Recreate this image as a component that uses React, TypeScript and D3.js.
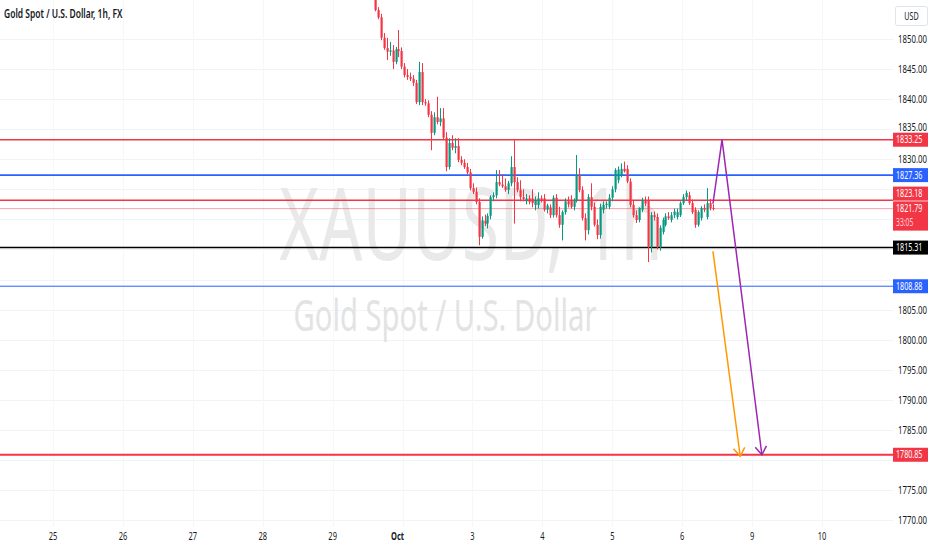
import * as d3 from "d3";

// hourly candles, [open, high, low, close]
const candles: number[][] = [
  [1859.0, 1860.0, 1856.6, 1857.2], [1857.2, 1857.8, 1854.6, 1854.8], [1854.8, 1855.3, 1853.3, 1853.6],
  [1853.6, 1854.2, 1849.8, 1850.2], [1850.2, 1851.0, 1848.2, 1848.5], [1848.5, 1850.2, 1846.5, 1847.9],
  [1847.9, 1849.5, 1847.2, 1848.1], [1848.1, 1849.0, 1845.0, 1846.2], [1846.2, 1848.7, 1845.8, 1848.3],
  [1848.3, 1851.5, 1847.0, 1848.0], [1848.0, 1848.6, 1845.0, 1845.4], [1845.4, 1846.0, 1843.6, 1844.0],
  [1844.0, 1845.0, 1843.2, 1843.7], [1843.7, 1844.4, 1843.0, 1843.4], [1843.4, 1844.0, 1842.2, 1842.7],
  [1842.7, 1843.2, 1839.2, 1839.5], [1839.5, 1846.2, 1839.0, 1844.5], [1844.5, 1846.0, 1839.0, 1839.5],
  [1839.5, 1840.0, 1838.9, 1839.3], [1839.3, 1839.8, 1837.0, 1837.4], [1837.4, 1838.0, 1831.5, 1834.4],
  [1834.4, 1837.8, 1834.0, 1837.0], [1837.0, 1840.4, 1835.8, 1836.2], [1836.2, 1838.5, 1835.5, 1836.8],
  [1836.8, 1838.5, 1833.2, 1833.6], [1833.6, 1834.5, 1828.0, 1828.7], [1828.7, 1833.5, 1828.3, 1832.7],
  [1832.7, 1834.0, 1831.5, 1831.9], [1831.9, 1833.5, 1831.0, 1832.2], [1832.2, 1833.5, 1829.5, 1829.9],
  [1829.9, 1830.5, 1829.0, 1829.4], [1829.4, 1830.0, 1828.4, 1828.7], [1828.7, 1829.4, 1827.5, 1827.8],
  [1827.8, 1828.4, 1824.8, 1825.2], [1825.2, 1826.0, 1824.2, 1824.6], [1824.6, 1825.3, 1822.5, 1822.9],
  [1822.9, 1823.5, 1815.7, 1817.1], [1817.1, 1820.5, 1816.8, 1819.8], [1819.8, 1820.8, 1818.9, 1819.3],
  [1819.3, 1821.0, 1818.5, 1820.6], [1820.6, 1824.0, 1820.0, 1823.7], [1823.7, 1824.5, 1823.0, 1824.0],
  [1824.0, 1828.2, 1823.5, 1826.2], [1826.2, 1828.2, 1825.5, 1825.8], [1825.8, 1827.5, 1825.2, 1825.5],
  [1825.5, 1826.8, 1824.6, 1824.9], [1824.9, 1826.4, 1824.2, 1826.0], [1826.0, 1830.5, 1825.5, 1828.7],
  [1828.7, 1833.2, 1819.3, 1826.2], [1826.2, 1827.0, 1824.5, 1824.9], [1824.9, 1826.5, 1823.0, 1823.7],
  [1823.7, 1825.0, 1823.0, 1823.4], [1823.0, 1824.2, 1822.5, 1823.5], [1823.5, 1824.0, 1822.5, 1822.9],
  [1823.5, 1825.0, 1822.0, 1822.7], [1822.4, 1823.8, 1821.5, 1823.2], [1822.4, 1824.5, 1821.8, 1823.5],
  [1823.5, 1824.0, 1822.8, 1823.2], [1823.5, 1824.2, 1821.3, 1821.6], [1821.6, 1822.6, 1821.0, 1822.3],
  [1822.0, 1822.5, 1820.2, 1820.7], [1820.7, 1824.0, 1820.3, 1823.6], [1823.6, 1824.2, 1820.3, 1820.7],
  [1820.7, 1822.1, 1818.6, 1819.1], [1819.1, 1821.5, 1816.5, 1821.2], [1821.2, 1823.5, 1820.8, 1823.0],
  [1823.0, 1823.8, 1822.0, 1822.5], [1823.2, 1824.0, 1821.8, 1822.1], [1822.1, 1823.5, 1821.5, 1823.2],
  [1823.2, 1830.7, 1822.8, 1827.4], [1827.4, 1828.5, 1824.5, 1824.9], [1824.9, 1825.5, 1819.8, 1820.2],
  [1820.2, 1821.0, 1816.5, 1818.2], [1818.2, 1824.2, 1817.5, 1823.7], [1823.7, 1826.0, 1821.5, 1822.1],
  [1822.1, 1822.8, 1818.8, 1819.1], [1819.1, 1820.0, 1816.7, 1817.4], [1817.4, 1822.6, 1816.8, 1822.1],
  [1821.6, 1823.0, 1821.0, 1822.4], [1822.4, 1823.0, 1821.8, 1822.6], [1822.1, 1824.2, 1821.7, 1823.6],
  [1823.6, 1825.5, 1823.0, 1825.0], [1825.0, 1828.5, 1824.5, 1828.2], [1826.5, 1828.8, 1826.0, 1828.3],
  [1827.3, 1829.3, 1827.0, 1828.4], [1828.4, 1829.6, 1827.8, 1828.0], [1828.4, 1829.0, 1826.0, 1826.3],
  [1826.3, 1826.8, 1822.0, 1822.4], [1822.4, 1823.2, 1820.3, 1820.7], [1820.7, 1821.5, 1819.4, 1819.9],
  [1819.9, 1822.0, 1819.5, 1821.9], [1821.6, 1823.6, 1821.2, 1823.2], [1823.2, 1823.8, 1822.2, 1822.6],
  [1823.2, 1823.8, 1812.9, 1815.4], [1815.4, 1821.2, 1814.5, 1820.7], [1820.7, 1821.3, 1819.8, 1820.4],
  [1820.4, 1821.0, 1815.0, 1815.4], [1815.4, 1819.0, 1814.8, 1818.6], [1817.9, 1820.3, 1817.5, 1819.9],
  [1819.1, 1821.0, 1818.8, 1820.5], [1820.5, 1821.2, 1819.9, 1820.2], [1819.9, 1821.2, 1819.5, 1820.7],
  [1820.7, 1821.8, 1820.2, 1821.3], [1820.4, 1821.8, 1820.0, 1821.2], [1820.7, 1823.0, 1820.4, 1822.7],
  [1822.7, 1824.2, 1822.4, 1823.7], [1823.7, 1824.8, 1823.2, 1824.4], [1824.0, 1824.6, 1822.4, 1822.7],
  [1822.7, 1823.3, 1820.9, 1821.2], [1821.6, 1822.0, 1818.6, 1819.1], [1819.1, 1821.5, 1818.8, 1821.2],
  [1820.2, 1822.2, 1819.8, 1821.9], [1821.9, 1822.5, 1821.2, 1821.6], [1820.4, 1825.2, 1820.0, 1822.7],
  [1822.7, 1823.4, 1821.5, 1821.9], [1821.9, 1822.5, 1821.5, 1821.79],
];

const dayLabels = ["25", "26", "27", "28", "29", "Oct", "3", "4", "5", "6", "9", "10"];
const priceTicks = d3.range(1770, 1851, 5);

// first / last candle position, in trading days from "25"
const firstCandleDay = 4.56;
const lastCandleDay = 9.44;

// horizontal levels: [price, color, width]
const levels: [number, string, number][] = [
  [1833.25, "#f23645", 1.6],
  [1827.36, "#2962ff", 1.6],
  [1823.18, "#f23645", 1.6],
  [1815.31, "#000000", 1.6],
  [1808.88, "#2962ff", 1],
  [1780.85, "#f23645", 2],
];
const lastPrice = 1821.79;
const countdown = "33:05";

// drawn projections: [day, price]
const purplePath: [number, number][] = [[9.44, 1822.6], [9.57, 1833.25], [10.14, 1780.85]];
const orangePath: [number, number][] = [[9.44, 1814.7], [9.83, 1780.6]];

const W = 932;
const H = 550;
const plotRight = 893;
const SX = 0.68;
const FONT = "'Noto Sans', sans-serif";

const x = d3.scaleLinear().domain([0, 11]).range([53, 822]);
const y = d3.scaleLinear().domain([1770, 1850]).range([520, 39]);

const T = ({ tx, ty, size, fill = "#131722", anchor = "start", weight = 400, children }: any) => (
  <text
    transform={`translate(${tx},${ty}) scale(${SX},1)`}
    fontSize={size}
    fill={fill}
    textAnchor={anchor}
    fontWeight={weight}
    fontFamily={FONT}
  >
    {children}
  </text>
);

const arrowHead = (pts: [number, number][], color: string) => {
  const [a, b] = pts.slice(-2).map(([d, p]) => [x(d), y(p)]);
  const ang = Math.atan2(b[1] - a[1], b[0] - a[0]);
  const len = 10;
  const p1 = [b[0] - len * Math.cos(ang - 0.6), b[1] - len * Math.sin(ang - 0.6)];
  const p2 = [b[0] - len * Math.cos(ang + 0.6), b[1] - len * Math.sin(ang + 0.6)];
  return <path d={`M${p1}L${b}L${p2}`} fill="none" stroke={color} strokeWidth={1.5} />;
};

export default function App() {
  const step = (lastCandleDay - firstCandleDay) / (candles.length - 1);
  const line = d3.line<[number, number]>().x((d) => x(d[0])).y((d) => y(d[1]));

  // y centres of the boxes on the price axis (the 1823.18 one is pushed up by the live price box)
  const boxCentres = [...levels.map(([p]) => y(p)), y(lastPrice), y(lastPrice) + 13];
  boxCentres[2] = y(lastPrice) - 15;
  const hidden = (p: number) => boxCentres.some((c) => Math.abs(c - y(p)) < 9.5);

  const priceBox = (price: number, bg: string, key: string, cy?: number) => {
    const yy = cy ?? y(price);
    return (
      <g key={key}>
        <rect x={893} y={yy - 7} width={35} height={14} fill={bg} />
        <T tx={896} ty={yy + 3.6} size={10.5} fill="#ffffff">{price.toFixed(2)}</T>
      </g>
    );
  };

  return (
    <svg width={W} height={H} style={{ position: "fixed", left: 0, top: 0, background: "#fff" }}>
      {/* grid */}
      {priceTicks.map((p) => (
        <line key={p} x1={0} x2={plotRight} y1={Math.round(y(p)) + 0.5} y2={Math.round(y(p)) + 0.5} stroke="#f0f3fa" />
      ))}
      {dayLabels.map((d, i) => (
        <line key={d} x1={Math.round(x(i)) + 0.5} x2={Math.round(x(i)) + 0.5} y1={0} y2={527} stroke="#f5f7fb" />
      ))}

      {/* watermark */}
      <T tx={471} ty={260} size={100} fill="#e9e9e9" anchor="middle">XAUUSD, 1h</T>
      <T tx={445} ty={331} size={43} fill="#e3e3e3" anchor="middle">Gold Spot / U.S. Dollar</T>

      {/* levels */}
      {levels.map(([p, c, w]) => (
        <line key={p} x1={0} x2={plotRight} y1={y(p)} y2={y(p)} stroke={c} strokeWidth={w} />
      ))}
      <line x1={0} x2={plotRight} y1={y(lastPrice)} y2={y(lastPrice)} stroke="#f23645" strokeOpacity={0.45} strokeWidth={1} />

      {/* candles */}
      {candles.map(([o, h, l, c], i) => {
        const cx = Math.round(x(firstCandleDay + i * step));
        const col = c >= o ? "#089981" : "#f23645";
        const top = y(Math.max(o, c));
        const bh = Math.max(1, y(Math.min(o, c)) - top);
        return (
          <g key={i}>
            <line x1={cx + 0.5} x2={cx + 0.5} y1={y(h)} y2={y(l)} stroke={col} strokeWidth={1} />
            <rect x={cx - 0.5} y={top} width={2.2} height={bh} fill={col} />
          </g>
        );
      })}

      {/* projections */}
      <path d={line(purplePath) ?? ""} fill="none" stroke="#9c27b0" strokeWidth={1.5} />
      {arrowHead(purplePath, "#9c27b0")}
      <path d={line(orangePath) ?? ""} fill="none" stroke="#ff9800" strokeWidth={1.5} />
      {arrowHead(orangePath, "#ff9800")}

      {/* price axis */}
      {priceTicks.filter((p) => !hidden(p)).map((p) => (
        <T key={p} tx={898} ty={y(p) + (p === 1835 ? 2 : 4)} size={11.5}>{p.toFixed(2)}</T>
      ))}
      <rect x={895.5} y={6.5} width={32} height={19} rx={2} fill="#fff" stroke="#e0e3eb" />
      <T tx={911.5} ty={19.5} size={10.5} anchor="middle">USD</T>

      {priceBox(1833.25, "#f23645", "a")}
      {priceBox(1827.36, "#2962ff", "b")}
      <rect x={893} y={y(lastPrice) - 7} width={35} height={29} fill="#f23645" />
      {priceBox(1823.18, "#f23645", "c", y(lastPrice) - 15)}
      {priceBox(lastPrice, "#f23645", "d")}
      <T tx={896} ty={y(lastPrice) + 17.5} size={10} fill="#ffd0d4">{countdown}</T>
      {priceBox(1815.31, "#000000", "e")}
      {priceBox(1808.88, "#2962ff", "f")}
      {priceBox(1780.85, "#f23645", "g")}

      {/* time axis */}
      {dayLabels.map((d, i) => (
        <T key={d} tx={x(i) - (d === "Oct" ? 5 : 0)} ty={540} size={11} anchor="middle" weight={d === "Oct" ? 700 : 400}>{d}</T>
      ))}

      {/* title */}
      <T tx={4} ty={18} size={12.5} weight={600}>Gold Spot / U.S. Dollar, 1h, FX</T>
    </svg>
  );
}
